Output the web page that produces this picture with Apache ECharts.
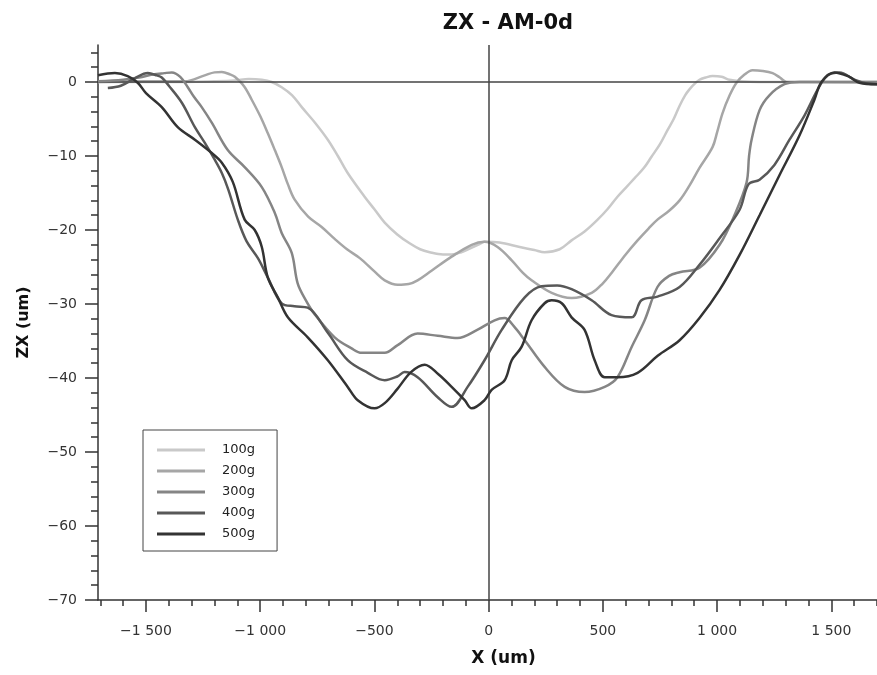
<!DOCTYPE html>
<html><head><meta charset="utf-8">
<script src="https://cdn.jsdelivr.net/npm/echarts@6/dist/echarts.min.js"></script>
<style>html,body{margin:0;padding:0;background:#fff}#c{width:877px;height:675px}</style>
</head><body><div id="c"></div>
<script>
const seriesNames = ['100g','200g','300g','400g','500g'];
const seriesColors = ['#c9c9c9','#a6a6a6','#858585','#585858','#333333'];
const xTicks = [-1500,-1000,-500,0,500,1000,1500];
const yTicks = [-70,-60,-50,-40,-30,-20,-10,0];
const s100 = [[-1710,0],[-1400,0],[-1200,0.1],[-1111,0.2],[-1050,0.4],[-993,0.3],[-950,0],[-906,-0.7],[-860,-1.8],[-818,-3.4],[-760,-5.5],[-704,-7.8],[-660,-10],[-617,-12.3],[-543,-15.5],[-500,-17.2],[-455,-19],[-400,-20.6],[-346,-21.8],[-300,-22.6],[-258,-23],[-200,-23.3],[-162,-23.3],[-120,-23],[-83,-22.5],[-40,-21.9],[-18,-21.6],[48,-21.7],[136,-22.3],[200,-22.7],[245,-23],[311,-22.6],[363,-21.4],[420,-20.2],[477,-18.6],[520,-17.2],[564,-15.5],[600,-14.3],[639,-13],[680,-11.6],[713,-10.1],[750,-8.4],[783,-6.5],[810,-5],[836,-3.2],[860,-1.8],[879,-1],[900,-0.3],[923,0.3],[950,0.6],[980,0.8],[1020,0.7],[1054,0.3],[1100,0.1],[1186,0],[1400,0],[1700,-0.1]];
const s200 = [[-1710,0],[-1500,0.1],[-1330,0.1],[-1243,0.9],[-1200,1.3],[-1168,1.35],[-1130,1.0],[-1111,0.7],[-1070,-0.6],[-1037,-2.4],[-1000,-4.6],[-967,-6.9],[-936,-9.2],[-906,-11.5],[-879,-13.8],[-849,-15.9],[-790,-18.2],[-731,-19.6],[-674,-21.2],[-620,-22.6],[-564,-23.8],[-500,-25.6],[-455,-26.8],[-398,-27.4],[-350,-27.3],[-311,-26.8],[-250,-25.5],[-162,-23.6],[-74,-22],[-18,-21.6],[39,-22.3],[101,-24.1],[150,-25.8],[188,-26.8],[276,-28.5],[363,-29.2],[451,-28.5],[500,-27.2],[538,-25.8],[600,-23.3],[652,-21.4],[700,-19.8],[739,-18.6],[790,-17.4],[836,-16],[879,-14],[923,-11.6],[980,-8.8],[1000,-6.8],[1024,-4.2],[1055,-1.8],[1085,-0.1],[1120,1.0],[1155,1.6],[1200,1.5],[1243,1.2],[1275,0.6],[1304,0],[1400,0],[1700,0]];
const s300 = [[-1710,0.1],[-1600,0.3],[-1530,0.6],[-1470,1.0],[-1420,1.2],[-1387,1.3],[-1350,0.7],[-1317,-0.7],[-1290,-2],[-1256,-3.4],[-1212,-5.5],[-1142,-9.2],[-1068,-11.5],[-993,-14.2],[-936,-17.7],[-906,-20.4],[-862,-23.1],[-836,-27.2],[-800,-29.5],[-761,-31.4],[-674,-34.5],[-600,-36],[-556,-36.6],[-455,-36.6],[-400,-35.6],[-311,-34],[-223,-34.3],[-136,-34.6],[-50,-33.5],[26,-32.2],[70,-31.9],[110,-33],[158,-34.9],[245,-38.5],[333,-41.2],[420,-41.9],[508,-41.2],[564,-39.9],[626,-35.8],[683,-32.2],[739,-27.7],[790,-26.2],[836,-25.7],[923,-25.1],[1011,-22],[1076,-18],[1129,-13.6],[1140,-10],[1151,-7.8],[1186,-3.8],[1229,-1.8],[1295,-0.3],[1361,0],[1700,0]];
const s400 = [[-1667,-0.8],[-1610,-0.5],[-1549,0.5],[-1492,1.2],[-1453,0.9],[-1431,0.6],[-1400,-0.5],[-1343,-2.8],[-1286,-6.1],[-1243,-8.2],[-1199,-10.5],[-1168,-12.3],[-1140,-14.5],[-1098,-18.6],[-1060,-21.5],[-1010,-23.8],[-967,-26.4],[-906,-29.9],[-850,-30.3],[-792,-30.5],[-704,-33.9],[-617,-37.6],[-529,-39.3],[-455,-40.3],[-400,-39.8],[-368,-39.2],[-311,-39.9],[-223,-42.6],[-162,-43.9],[-92,-41.2],[-18,-37.6],[57,-33.5],[158,-29.1],[232,-27.6],[300,-27.5],[363,-28],[451,-29.5],[538,-31.5],[626,-31.8],[669,-29.5],[739,-29],[836,-27.7],[923,-24.7],[1011,-21.1],[1098,-17.3],[1138,-13.8],[1186,-13.2],[1251,-11.2],[1317,-7.8],[1383,-4.5],[1439,-1.1],[1483,0.9],[1536,1.3],[1601,0.3],[1654,-0.2],[1700,-0.3]];
const s500 = [[-1710,0.9],[-1636,1.2],[-1580,0.8],[-1536,-0.1],[-1500,-1.5],[-1431,-3.4],[-1361,-6.1],[-1286,-7.8],[-1212,-9.6],[-1168,-10.9],[-1120,-13.5],[-1068,-18.6],[-1024,-20],[-993,-22.3],[-967,-26.4],[-923,-29.1],[-879,-31.8],[-792,-34.5],[-704,-37.6],[-617,-41.2],[-573,-43],[-499,-44.1],[-455,-43.4],[-400,-41.5],[-340,-39.2],[-280,-38.2],[-220,-39.5],[-162,-41.2],[-105,-43],[-74,-44.1],[-18,-43],[13,-41.6],[70,-40.3],[101,-37.6],[144,-35.8],[188,-32.2],[245,-29.9],[276,-29.5],[320,-29.9],[363,-31.8],[420,-33.5],[464,-37.6],[508,-39.9],[564,-39.9],[652,-39.3],[740,-37],[836,-34.9],[923,-31.9],[1011,-28.1],[1098,-23.4],[1186,-18],[1273,-12.6],[1361,-7.2],[1426,-2.4],[1457,0],[1514,1.3],[1579,0.7],[1623,-0.1],[1700,-0.3]];
const allSeries = [s100, s200, s300, s400, s500];

const xMinor = []; for (let v = -1700; v <= 1700; v += 100) xMinor.push(v);
const yMinor = []; for (let v = -70; v <= 4; v += 2) yMinor.push(v);

function fmt(v) {
  const a = Math.abs(v);
  let s = a >= 1000 ? Math.floor(a/1000) + ' ' + String(a%1000).padStart(3,'0') : String(a);
  return (v < 0 ? '\u2212' : '') + s;
}
const FONT = 'DejaVu Sans';
const chart = echarts.init(document.getElementById('c'));
const series = allSeries.map((d, i) => ({
  name: seriesNames[i], type: 'line', data: d, showSymbol: false, smooth: 0.35,
  xAxisIndex: 0, yAxisIndex: 0,
  lineStyle: { color: seriesColors[i], width: 2.5 }, itemStyle: { color: seriesColors[i] },
  z: 3 + i
}));
series[0].markLine = {
  silent: true, symbol: 'none', label: { show: false },
  lineStyle: { color: '#444', width: 1.5, type: 'solid' },
  data: [{ xAxis: 0 }, { yAxis: 0 }]
};
chart.setOption({
  animation: false,
  backgroundColor: '#fff',
  title: { text: 'ZX - AM-0d', left: 503, textAlign: 'center', top: 8,
    textStyle: { fontFamily: FONT, fontSize: 21, fontWeight: 'bold', color: '#111' } },
  grid: { left: 98, right: 0, top: 45, bottom: 75 },
  legend: {
    orient: 'vertical', left: 143, top: 430, data: seriesNames,
    icon: 'rect', itemWidth: 48, itemHeight: 3, itemGap: 5,
    padding: [12, 22, 9, 14], borderColor: '#444', borderWidth: 1,
    textStyle: { fontFamily: FONT, fontSize: 13, lineHeight: 16, color: '#222', padding: [0, 0, 0, 12] }
  },
  xAxis: [
    { type: 'value', min: -1710, max: 1700, position: 'bottom',
      name: 'X (um)', nameLocation: 'middle', nameGap: 50,
      nameTextStyle: { fontFamily: FONT, fontSize: 17, fontWeight: 'bold', color: '#111', padding: [0,0,0,32] },
      axisLine: { show: true, onZero: false, lineStyle: { color: '#333', width: 1.5 } },
      axisTick: { show: true, customValues: xTicks, length: 12, lineStyle: { color: '#333', width: 1.5 } },
      axisLabel: { customValues: xTicks, formatter: fmt, margin: 24, fontFamily: FONT, fontSize: 14, color: '#333' },
      splitLine: { show: false } },
    { type: 'value', min: -1710, max: 1700, position: 'bottom',
      axisLine: { show: false, onZero: false }, axisLabel: { show: false }, splitLine: { show: false },
      axisTick: { show: true, customValues: xMinor, length: 6, lineStyle: { color: '#333', width: 1.5 } } }
  ],
  yAxis: [
    { type: 'value', min: -70, max: 5, position: 'left',
      name: 'ZX (um)', nameLocation: 'middle', nameGap: 66, nameRotate: 90,
      nameTextStyle: { fontFamily: FONT, fontSize: 16, fontWeight: 'bold', color: '#111' },
      axisLine: { show: true, onZero: false, lineStyle: { color: '#333', width: 1.5 } },
      axisTick: { show: true, customValues: yTicks, length: 13, lineStyle: { color: '#333', width: 1.5 } },
      axisLabel: { customValues: yTicks, formatter: fmt, margin: 21, fontFamily: FONT, fontSize: 14, color: '#333' },
      splitLine: { show: false } },
    { type: 'value', min: -70, max: 5, position: 'left',
      axisLine: { show: false, onZero: false }, axisLabel: { show: false }, splitLine: { show: false },
      axisTick: { show: true, customValues: yMinor, length: 7, lineStyle: { color: '#333', width: 1.5 } } }
  ],
  series: series
});
</script>
</body></html>
